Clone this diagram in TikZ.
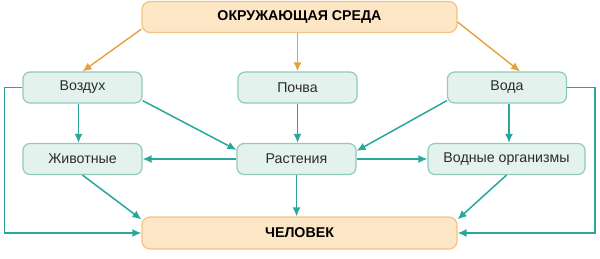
\documentclass[tikz,border=0pt]{standalone}
\usepackage{fontspec}
\setmainfont{Liberation Sans}
\usepackage{tikz}
\usetikzlibrary{arrows.meta,positioning,calc}

\definecolor{boxfill}{HTML}{E4F2ED}
\definecolor{boxline}{HTML}{8FCBBB}
\definecolor{mainfill}{HTML}{FDE6C6}
\definecolor{mainline}{HTML}{F2C384}
\definecolor{tealline}{HTML}{2AA79B}
\definecolor{orangeline}{HTML}{E5A13F}
\definecolor{txt}{HTML}{2B2B2B}

\begin{document}
\begin{tikzpicture}[
  x=1pt,y=-1pt,
  item/.style={draw=boxline,fill=boxfill,line width=1.2pt,rounded corners=7pt,minimum width=119pt,minimum height=31pt,inner sep=0pt,font=\fontsize{14.2}{16}\selectfont,text=txt},
  mainbox/.style={draw=mainline,fill=mainfill,line width=1.2pt,rounded corners=8pt,minimum width=315pt,minimum height=31pt,inner sep=0pt,font=\fontsize{14.2}{16}\selectfont\bfseries,text=black},
  flow/.style={-{Latex[length=9pt,width=8pt]},line width=1.5pt,draw=tealline},
  feed/.style={-{Latex[length=9pt,width=8pt]},line width=1.4pt,draw=orangeline}
]
  \useasboundingbox (0,0) rectangle (600,258);

  \node[mainbox] (env) at (299.5,17) {ОКРУЖАЮЩАЯ СРЕДА};

  \node[item] (air) at (82.5,87.5) {Воздух};
  \node[item] (soil) at (297.5,87.5) {Почва};
  \node[item] (water) at (507,87.5) {Вода};

  \node[item] (animals) at (82.5,159) {Животные};
  \node[item] (plants) at (296.5,159) {Растения};
  \node[item,minimum width=157pt] (aqua) at (506.5,159) {Водные организмы};

  \node[mainbox,minimum height=32pt] (man) at (299.5,233) {ЧЕЛОВЕК};

  % environment to its parts
  \draw[feed] ([yshift=4pt]env.south west) -- (air.north);
  \draw[feed] (env.south -| soil.north) -- (soil.north);
  \draw[feed] ([yshift=-5pt]env.east) -- ([xshift=13pt]water.north);

  % air
  \draw[flow] (air.west) -- ++(-18,0) |- (man.west);
  \draw[flow] ([xshift=-4pt]air.south) -- ([xshift=-4pt]air.south |- animals.north);
  \draw[flow] ([yshift=3pt]air.south east) -- ([yshift=-7pt]plants.north west);

  % soil and water
  \draw[flow] (soil.south) -- (soil.south |- plants.north);
  \draw[flow] ([yshift=3pt]water.south west) -- ([yshift=-8pt]plants.north east);
  \draw[flow] ([xshift=2pt]water.south) -- ([xshift=2pt]water.south |- aqua.north);
  \draw[flow] (water.east) -- ++(28,0) |- (man.east);

  % plants
  \draw[flow] (plants.west) -- (animals.east);
  \draw[flow] (plants.east) -- (aqua.west);
  \draw[flow] (plants.south) -- (plants.south |- man.north);

  % to man
  \draw[flow] (animals.south) -- ([yshift=-3pt]man.north west);
  \draw[flow] (aqua.south) -- ([yshift=-3pt]man.north east);
\end{tikzpicture}
\end{document}
